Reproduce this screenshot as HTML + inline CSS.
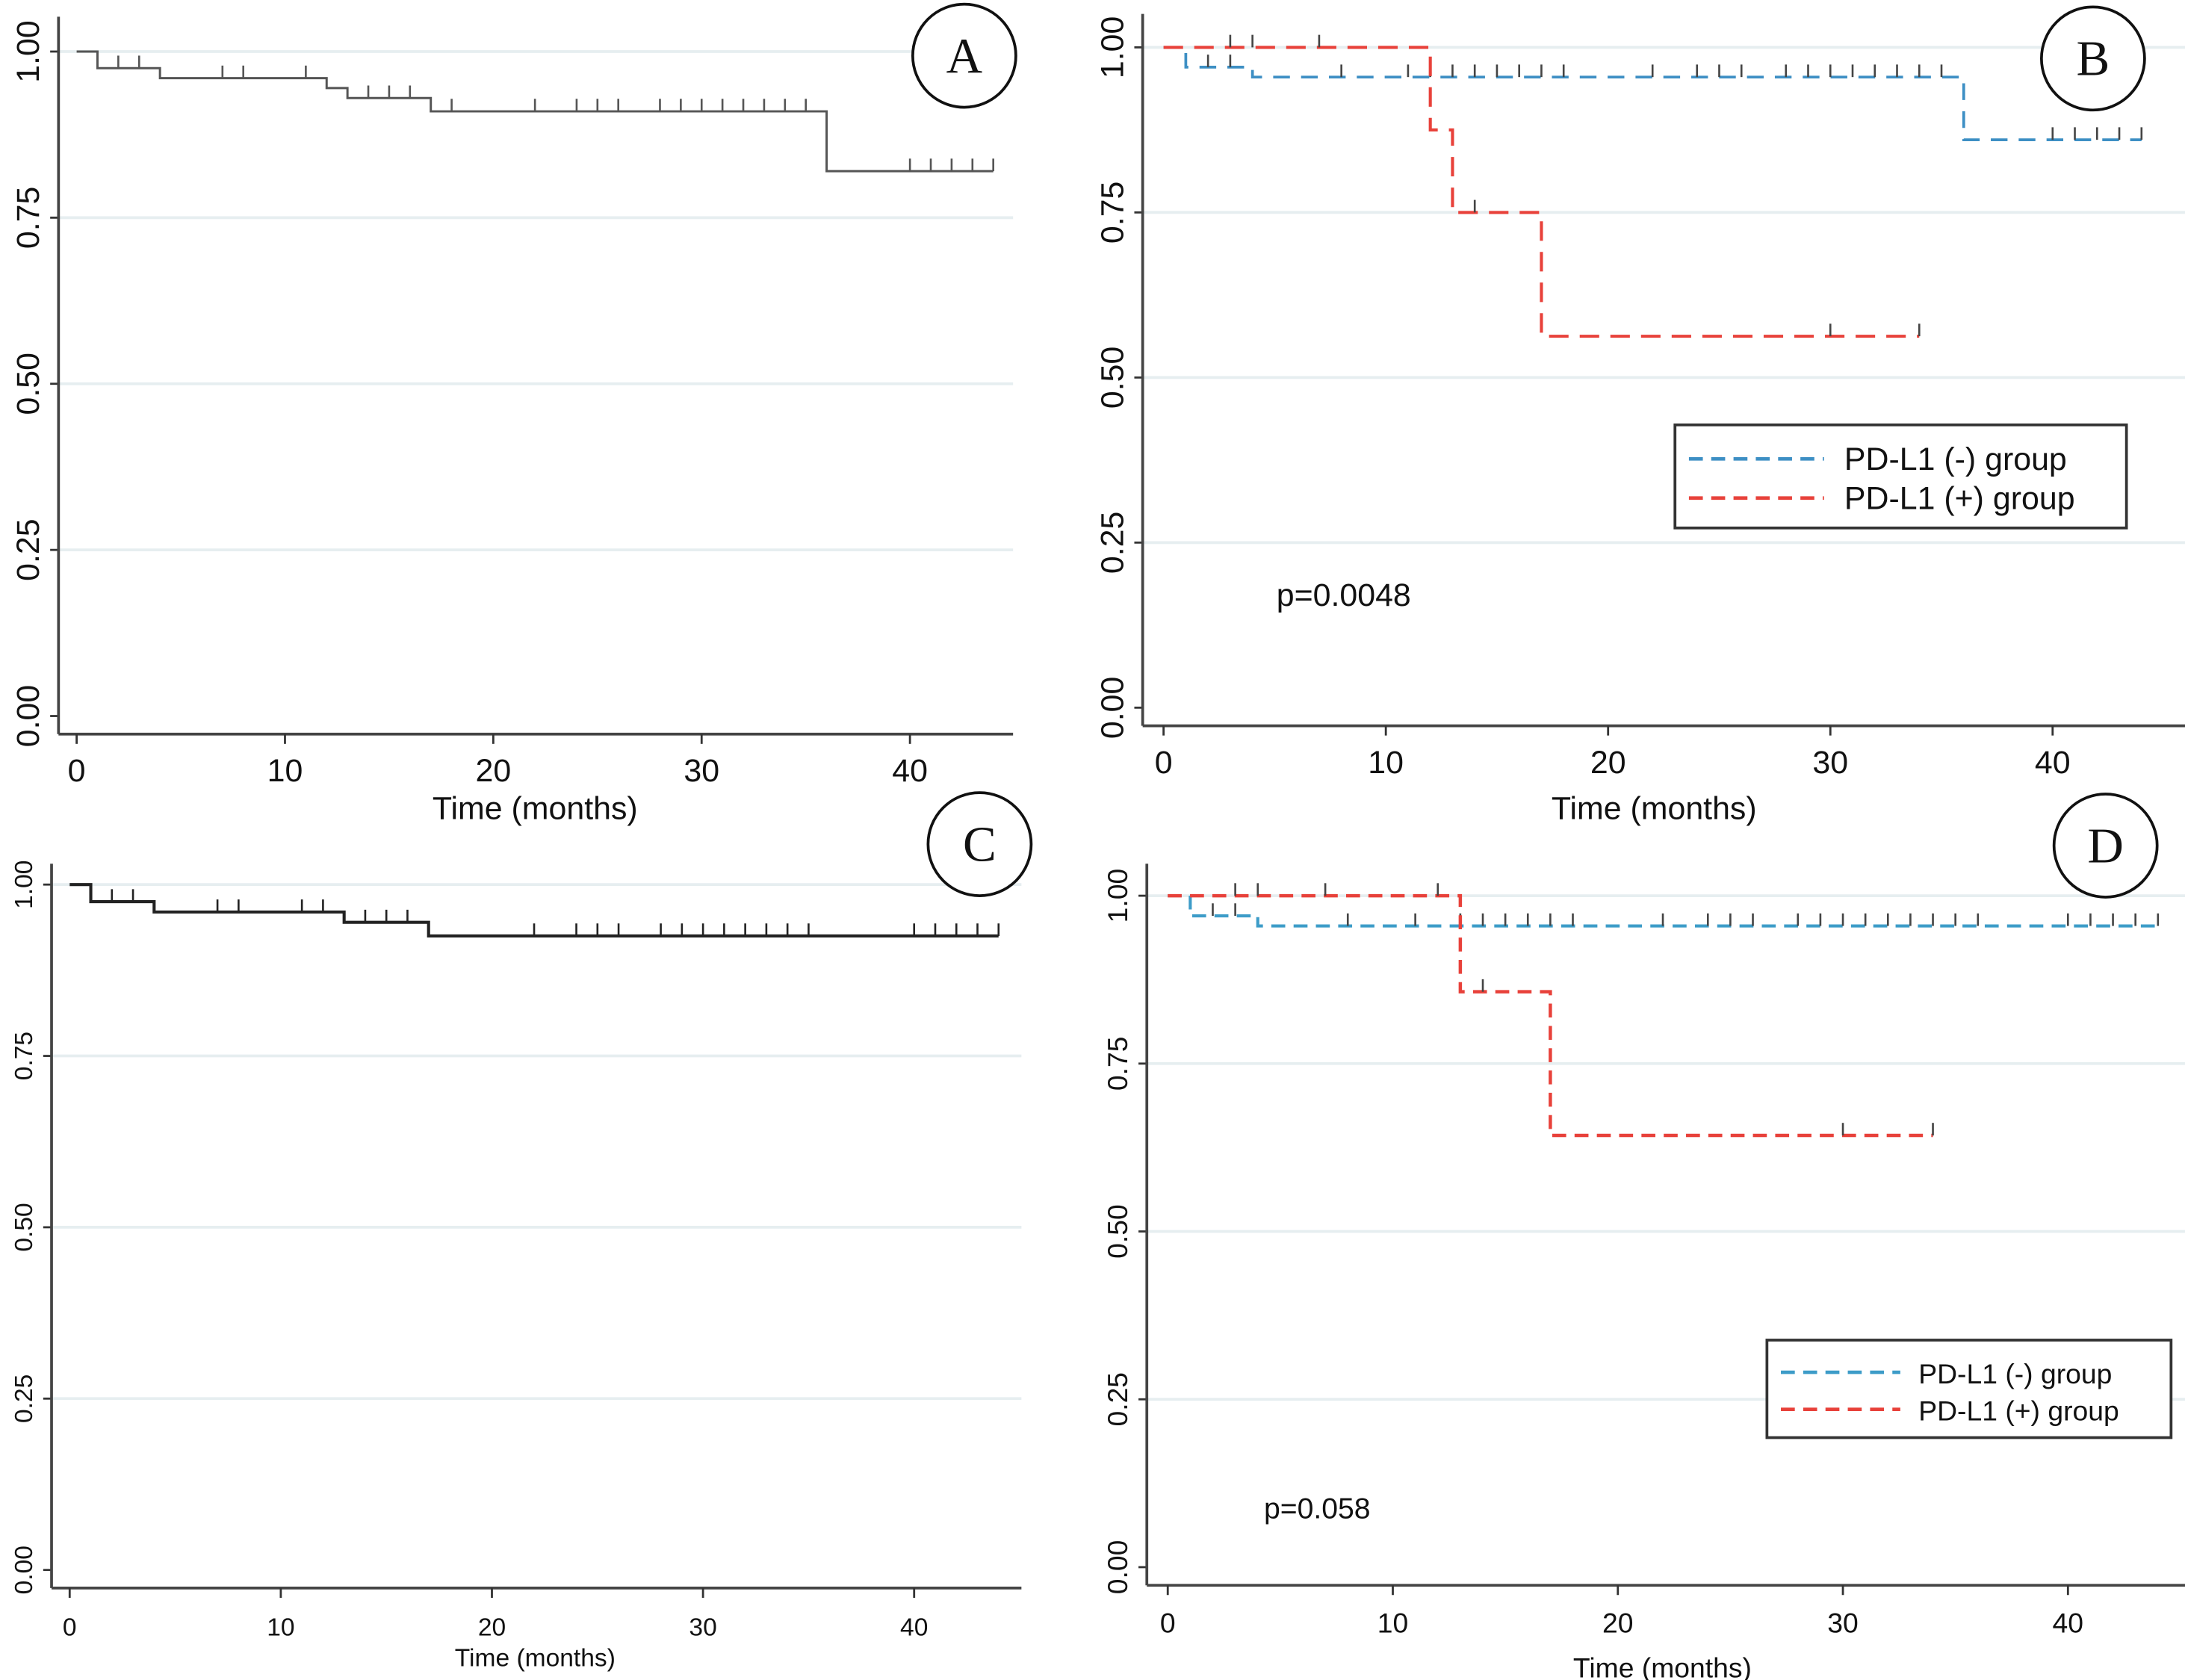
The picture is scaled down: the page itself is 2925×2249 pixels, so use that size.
<!DOCTYPE html>
<html><head><meta charset="utf-8"><style>
html,body{margin:0;padding:0;background:#fff;}
svg{display:block;font-family:"Liberation Sans",Arial,sans-serif;}
</style></head><body>
<svg id="fig" width="2925" height="2249" viewBox="0 0 1568 1206" preserveAspectRatio="none" xmlns="http://www.w3.org/2000/svg"></svg>
<script>
// ---- data arrays ----
const xTicks = [0, 10, 20, 30, 40];
const yTicks = [0, 0.25, 0.5, 0.75, 1];
const yTickLabels = ["0.00", "0.25", "0.50", "0.75", "1.00"];
// Panel A (all patients, OS)
const aTimes = [0, 1, 4, 12, 13, 17, 36, 44];
const aSurv = [1, 0.975, 0.96, 0.945, 0.93, 0.91, 0.82, 0.82];
const aCens = [2, 3, 7, 8, 11, 14, 15, 16, 18, 22, 24, 25, 26, 28, 29, 30, 31, 32, 33, 34, 35, 40, 41, 42, 43, 44];
// Panel B
const bNegTimes = [0, 1, 4, 36, 44];
const bNegSurv = [1, 0.97, 0.955, 0.86, 0.86];
const bNegCens = [2, 3, 8, 11, 12, 13, 14, 15, 16, 17, 18, 22, 24, 25, 26, 28, 29, 30, 31, 32, 33, 34, 35, 40, 41, 42, 43, 44];
const bPosTimes = [0, 12, 13, 17, 34];
const bPosSurv = [1, 0.875, 0.75, 0.5625, 0.5625];
const bPosCens = [3, 4, 7, 14, 30, 34];
// Panel C
const cTimes = [0, 1, 4, 13, 17, 44];
const cSurv = [1, 0.975, 0.96, 0.945, 0.925, 0.925];
const cCens = [2, 3, 7, 8, 11, 12, 14, 15, 16, 22, 24, 25, 26, 28, 29, 30, 31, 32, 33, 34, 35, 40, 41, 42, 43, 44];
// Panel D
const dNegTimes = [0, 1, 4, 44];
const dNegSurv = [1, 0.97, 0.955, 0.955];
const dNegCens = [2, 3, 8, 11, 13, 14, 15, 16, 17, 18, 22, 24, 25, 26, 28, 29, 30, 31, 32, 33, 34, 35, 36, 40, 41, 42, 43, 44];
const dPosTimes = [0, 13, 17, 34];
const dPosSurv = [1, 0.857, 0.643, 0.643];
const dPosCens = [3, 4, 7, 12, 14, 30, 34];
const legendLabels = ["PD-L1 (-) group", "PD-L1 (+) group"];

// ---- layout ----
const NS = "http://www.w3.org/2000/svg";
const svg = document.getElementById("fig");
function el(tag, attrs, parent, text) {
  const e = document.createElementNS(NS, tag);
  for (const k in attrs) e.setAttribute(k, attrs[k]);
  if (text !== undefined) e.textContent = text;
  (parent || svg).appendChild(e);
  return e;
}
const panels = [
  {id:"a", letter:"A", x0:55, x40:653, y1:37, y0:514, axX:42, axTop:12, base:527, right:727, fs:23, titleY:588, titleX:384, circ:[692,40],
   series:[{t:aTimes, s:aSurv, c:aCens, col:"#555", dash:null, w:1.6}]},
  {id:"b", letter:"B", x0:835, x40:1473, y1:34, y0:508, axX:820, axTop:10, base:521, right:1568, fs:23, titleY:588, titleX:1187, circ:[1502,42],
   series:[{t:bNegTimes, s:bNegSurv, c:bNegCens, col:"#3d8fc4", dash:"12 8", w:2},
           {t:bPosTimes, s:bPosSurv, c:bPosCens, col:"#e8413a", dash:"14 8", w:2.2}],
   legend:[1202,305,324,74], p:["p=0.0048",916,435,23]},
  {id:"c", letter:"C", x0:50, x40:656, y1:635, y0:1127, axX:37, axTop:620, base:1140, right:733, fs:18, titleY:1196, titleX:384, circ:[703,606],
   series:[{t:cTimes, s:cSurv, c:cCens, col:"#222", dash:null, w:2.2}]},
  {id:"d", letter:"D", x0:838, x40:1484, y1:643, y0:1125, axX:823, axTop:620, base:1138, right:1568, fs:20, titleY:1204, titleX:1193, circ:[1511,607],
   series:[{t:dNegTimes, s:dNegSurv, c:dNegCens, col:"#3d9cc8", dash:"10 6", w:2.2},
           {t:dPosTimes, s:dPosSurv, c:dPosCens, col:"#e8413a", dash:"10 6", w:2.4}],
   legend:[1268,962,290,70], p:["p=0.058",907,1090,21]}
];
function survAt(t, times, surv) {
  let v = surv[0];
  for (let i = 0; i < times.length; i++) if (times[i] <= t) v = surv[i];
  return v;
}
panels.forEach(P => {
  const g = el("g", {}, svg);
  
  
  const X = t => P.x0 + (P.x40 - P.x0) * t / 40;
  const Y = v => P.y0 + (P.y1 - P.y0) * v;
  // gridlines
  yTicks.forEach((v, i) => {
    if (v > 0) {
      const gl = el("line", {x1:P.axX, x2:P.right, y1:Y(v), y2:Y(v), stroke:"#e6eef0", "stroke-width":2}, g);
      
      
    }
    el("line", {x1:P.axX-6, x2:P.axX, y1:Y(v), y2:Y(v), stroke:"#333", "stroke-width":1.5}, g);
    const lab = el("text", {x:P.axX-14, y:Y(v), transform:`rotate(-90 ${P.axX-14} ${Y(v)})`, "text-anchor":"middle", "font-size":P.fs, fill:"#111"}, g, yTickLabels[i]);
    
    
  });
  // axes
  const ya = el("line", {x1:P.axX, x2:P.axX, y1:P.axTop, y2:P.base, stroke:"#444", "stroke-width":2}, g);
  
  
  const xa = el("line", {x1:P.axX, x2:P.right, y1:P.base, y2:P.base, stroke:"#444", "stroke-width":2}, g);
  
  
  xTicks.forEach(t => {
    el("line", {x1:X(t), x2:X(t), y1:P.base, y2:P.base+7, stroke:"#333", "stroke-width":1.5}, g);
    const lab = el("text", {x:X(t), y:P.base+34, "text-anchor":"middle", "font-size":P.fs, fill:"#111"}, g, String(t));
    
    
  });
  const xt = el("text", {x:P.titleX, y:P.titleY, "text-anchor":"middle", "font-size":P.fs, fill:"#111"}, g, "Time (months)");
  
  
  // series
  P.series.forEach((S, si) => {
    let d = `M${X(S.t[0])},${Y(S.s[0])}`;
    for (let i = 1; i < S.t.length; i++) {
      d += ` H${X(S.t[i])} V${Y(S.s[i])}`;
    }
    const a = {d:d, fill:"none", stroke:S.col, "stroke-width":S.w};
    if (S.dash) a["stroke-dasharray"] = S.dash;
    const path = el("path", a, g);
    
    
    S.c.forEach(t => {
      const v = survAt(t, S.t, S.s);
      const m = el("line", {x1:X(t), x2:X(t), y1:Y(v), y2:Y(v)-9, stroke:S.dash ? "#444" : S.col, "stroke-width":1.4}, g);
      
      
    });
  });
  // letter circle
  const c = el("ellipse", {cx:P.circ[0], cy:P.circ[1], rx:37, ry:37, fill:"#fff", stroke:"#111", "stroke-width":2}, g);
  
  
  const lt = el("text", {x:P.circ[0], y:P.circ[1]+12, "text-anchor":"middle", "font-size":36, "font-family":"Liberation Serif, serif", fill:"#111"}, g, P.letter);
  
  
  // legend
  if (P.legend) {
    const [lx, ly, lw, lh] = P.legend;
    const lg = el("g", {}, g);
    
    
    el("rect", {x:lx, y:ly, width:lw, height:lh, fill:"#fff", stroke:"#333", "stroke-width":2}, lg);
    P.series.forEach((S, si) => {
      const yy = ly + lh * (si === 0 ? 0.33 : 0.71);
      const ll = el("line", {x1:lx+10, x2:lx+lw*0.33, y1:yy, y2:yy, stroke:S.col, "stroke-width":2.5, "stroke-dasharray":"10 6"}, lg);
      
      
      const tx = el("text", {x:lx+lw*0.375, y:yy+8, "font-size":P.fs, fill:"#111"}, lg, legendLabels[si]);
      
      
    });
  }
  if (P.p) {
    const pt = el("text", {x:P.p[1], y:P.p[2], "font-size":P.p[3], fill:"#111"}, g, P.p[0]);
    
    
  }
});
</script>
</body></html>
